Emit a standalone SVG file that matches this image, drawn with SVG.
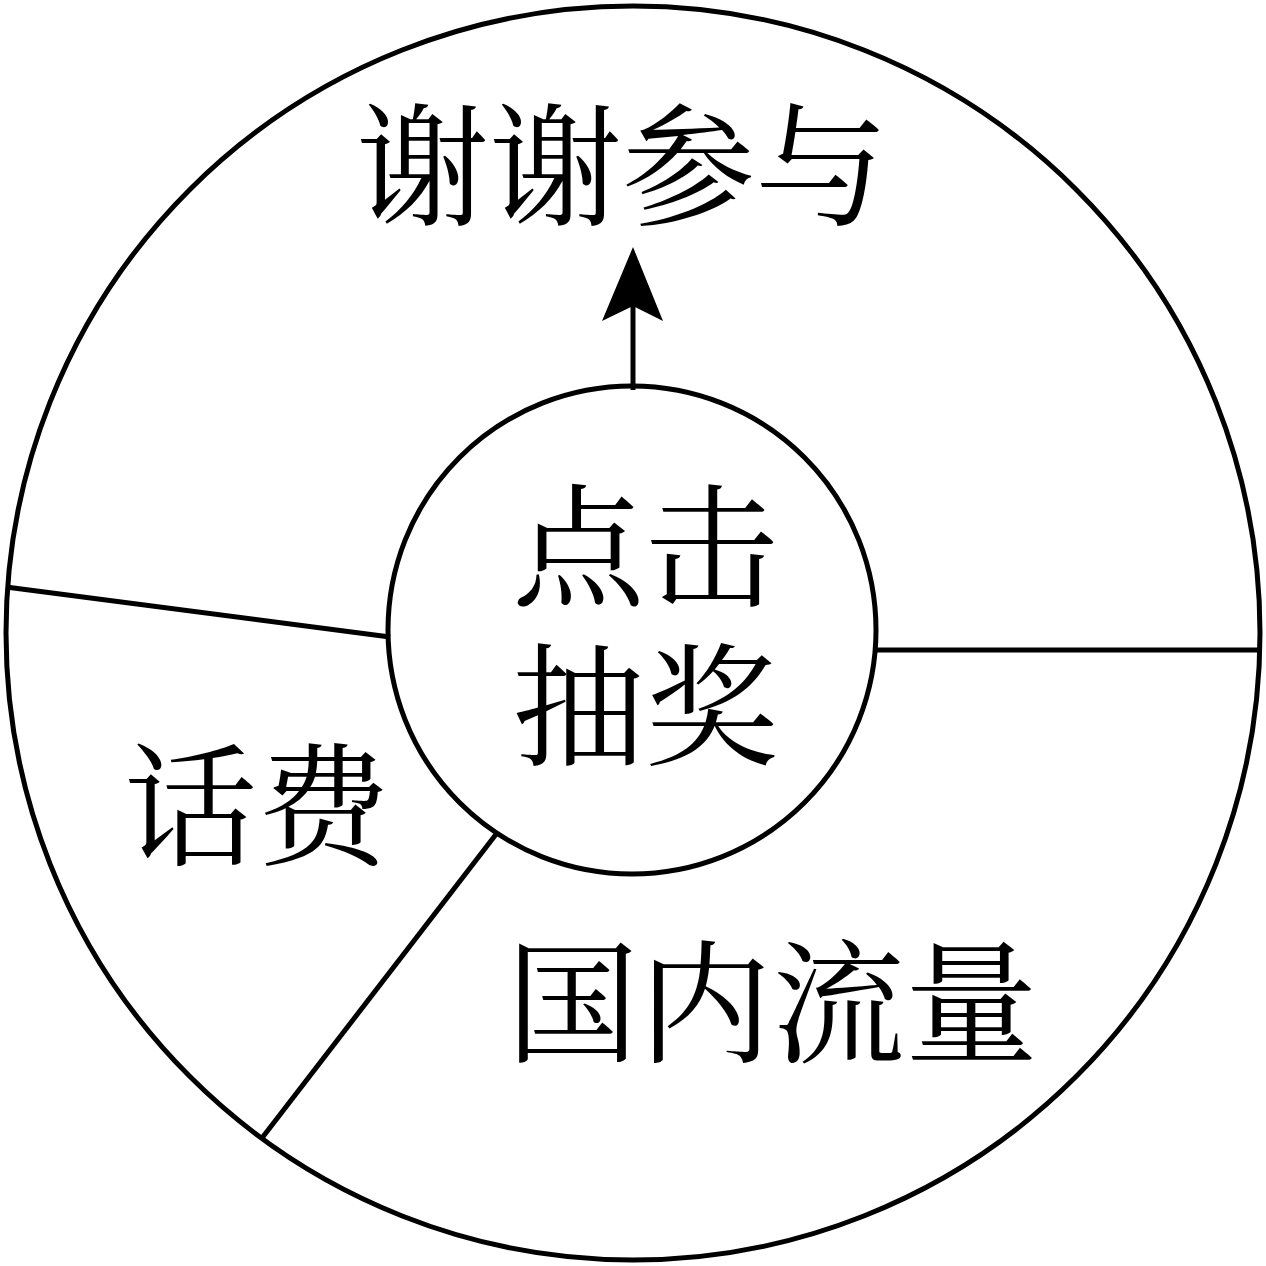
<svg xmlns="http://www.w3.org/2000/svg" width="1266" height="1266" viewBox="0 0 1266 1266">
<style>
.s{fill:none;stroke:#000;stroke-width:5}
.t{font-family:"Noto Serif CJK SC","Liberation Serif","Noto Sans CJK SC",serif;font-size:133px;fill:#000}
</style>
<rect width="1266" height="1266" fill="#fff"/>
<g id="wheel"><circle class="s" cx="633" cy="633" r="627"/></g>
<g id="connectors">
<line class="s" x1="6" y1="587" x2="390" y2="637"/>
<line class="s" x1="876" y1="650" x2="1260" y2="650"/>
<line class="s" x1="497" y1="833" x2="262" y2="1138"/>
<line class="s" x1="633" y1="390" x2="633" y2="300"/>
<polygon points="633,247 663,321 633,306 602,321" fill="#000"/>
</g>
<g id="center"><circle class="s" cx="632" cy="630" r="244"/>
<text class="t" x="645" y="596" text-anchor="middle">点击</text>
<text class="t" x="645" y="755" text-anchor="middle">抽奖</text></g>
<g id="thanks"><text class="t" x="622" y="215" text-anchor="middle">谢谢参与</text></g>
<g id="fee"><text class="t" x="257" y="855" text-anchor="middle">话费</text></g>
<g id="traffic"><text class="t" x="772" y="1052" text-anchor="middle">国内流量</text></g>
</svg>
